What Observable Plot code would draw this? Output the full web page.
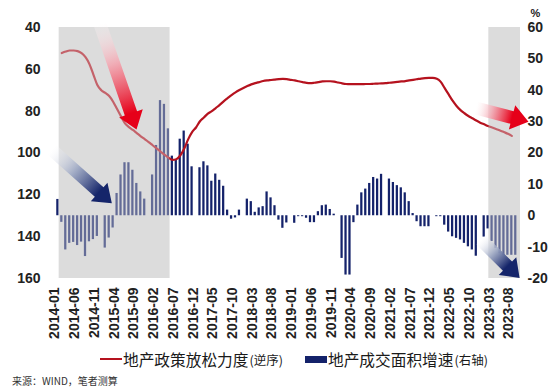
<!DOCTYPE html>
<html><head><meta charset="utf-8">
<script src="https://cdn.jsdelivr.net/npm/d3@7"></script>
<script src="https://cdn.jsdelivr.net/npm/@observablehq/plot@0.6"></script>
<style>
body{margin:0;background:#fff;}
#wrap{position:relative;width:553px;height:392px;overflow:hidden;background:#fff;font-family:"Liberation Sans",Arial,sans-serif;}
#chart{position:absolute;left:0;top:0;}
.leg{position:absolute;top:349px;height:20px;display:flex;align-items:center;font-family:"Noto Sans CJK SC",sans-serif;color:#1a1a1a;white-space:nowrap;}
.leg .t{font-size:15.7px;}
.leg .s{font-size:12.5px;margin-left:1px;}
.sw-line{display:inline-block;width:22px;height:2.5px;background:#b5121e;margin-right:1px;}
.sw-bar{display:inline-block;width:22px;height:7px;background:#14226a;margin-right:1px;}
#caption{position:absolute;left:12px;top:373px;font-family:"Noto Sans CJK SC",sans-serif;font-size:10px;color:#333;white-space:nowrap;}
</style></head><body>
<div id="wrap">
  <div id="chart"></div>
  <div class="leg" style="left:100px"><span class="sw-line"></span><span class="t">地产政策放松力度</span><span class="s">(逆序)</span></div>
  <div class="leg" style="left:305px"><span class="sw-bar"></span><span class="t">地产成交面积增速</span><span class="s">(右轴)</span></div>
  <div id="caption">来源：WIND，笔者测算</div>
</div>
<script>
// Categories: monthly, 2014-01 .. 2023-09
const months = d3.utcMonth.range(new Date(Date.UTC(2014,0,1)), new Date(Date.UTC(2023,9,1))).map(d3.utcFormat("%Y-%m"));
const tickLabels = ["2014-01","2014-06","2014-11","2015-04","2015-09","2016-02","2016-07","2016-12","2017-05","2017-10","2018-03","2018-08","2019-01","2019-06","2019-11","2020-04","2020-09","2021-02","2021-07","2021-12","2022-05","2022-10","2023-03","2023-08"];
const leftTicks = [40,60,80,100,120,140,160];
const rightTicks = [60,50,40,30,20,10,0,-10,-20];

// 地产成交面积增速 (右轴, %), 2014-01 .. 2023-09 (null = no value)
const salesGrowth = [
  5.2,-2.1,-10.9,-8.8,-8.5,-9.5,-8.4,-13.0,-8.3,-7.6,-6.6,null,
  -10.3,-7.1,-3.9,7.1,13.0,16.9,16.9,14.5,10.3,7.6,5.3,null,
  13.0,22.4,36.7,35.5,27.7,19.0,17.9,24.4,27.0,22.8,15.6,null,
  15.3,17.2,15.9,11.0,13.3,11.3,9.4,1.8,-1.1,-0.7,1.8,null,
  5.3,4.5,1.1,2.5,2.9,7.6,5.7,3.2,-1.4,-4.0,-2.3,null,
  -2.4,-0.3,-0.3,-0.8,-2.2,-2.2,1.3,3.2,3.4,2.0,0.5,null,
  -13.6,-18.9,-18.9,-2.2,3.4,7.3,8.5,10.3,12.2,11.7,13.2,null,
  11.7,10.6,9.6,8.9,7.3,4.5,0.7,-1.9,-3.5,-3.5,-3.5,null,
  -0.3,-0.3,-3.0,-5.2,-6.7,-7.2,-7.7,-8.8,-9.9,-10.9,-12.9,null,
  -6.8,-4.2,-8.2,-10.4,-12.1,-12.6,-12.6,-12.6,-12.6
];

// 地产政策放松力度 (逆序, 左轴), 2014-02 .. 2023-08
const lineStart = "2014-02";
const policyEase = [
  52.2,51.5,51.0,51.0,51.3,52.3,54.2,57.5,62.5,67.5,70.0,
  71.3,72.8,75.5,79.0,82.5,85.8,87.6,89.0,90.5,92.0,93.4,94.8,
  96.3,97.8,99.3,100.8,102.2,103.3,103.0,101.2,98.0,93.5,90.0,87.8,
  84.8,83.0,81.2,80.0,78.5,77.0,75.3,73.8,72.3,71.0,69.9,68.9,
  68.0,67.2,66.6,66.1,65.6,65.3,65.1,64.9,64.7,64.6,64.7,65.0,
  65.3,65.7,66.1,66.5,66.6,66.4,66.1,65.8,65.7,65.7,65.9,66.3,
  66.7,67.0,67.1,67.1,67.1,67.1,67.0,67.0,66.9,66.8,66.7,66.6,
  66.4,66.2,66.0,65.8,65.6,65.3,65.0,64.7,64.4,64.2,64.1,64.1,
  64.5,66.0,69.0,72.0,75.0,77.5,79.5,81.0,82.3,83.4,84.5,85.5,
  86.3,87.1,87.8,88.5,89.2,90.0,90.8,91.8
];

// Shaded periods (month index units)
const shades = [{from: 0.35, to: 28.4}, {from: 109.2, to: 117.2}];

// Annotation arrows (month index, left-axis units)
const arrows = [
  {x1: 10.8, y1: 38.6, x2: 20.05, y2: 89.0, kind: "red"},
  {x1: -1.35, y1: 98.8, x2: 13.8, y2: 124.3, kind: "blue"},
  {x1: 106.0, y1: 78.7, x2: 119.35, y2: 85.3, kind: "red"},
  {x1: 107.3, y1: 141.8, x2: 117.1, y2: 160.0, kind: "blue"}
];

const toLeft = v => 130 - 1.5 * v;   // right axis (%) -> left axis units
const bars = salesGrowth.map((v, i) => ({i, v})).filter(d => d.v != null);
const i0 = months.indexOf(lineStart);
const line = policyEase.map((v, k) => ({i: i0 + k, v}));
const tickIdx = tickLabels.map(l => months.indexOf(l));

const plot = Plot.plot({
  width: 553, height: 345,
  marginLeft: 55, marginRight: 33, marginTop: 27, marginBottom: 67,
  x: {type: "linear", domain: [-0.6, 117.2]},
  y: {domain: [40, 160], reverse: true},
  style: {fontFamily: "'Liberation Sans', Arial, sans-serif", fontSize: "14px", color: "#1a1a1a", background: "transparent", overflow: "visible"},
  marks: [
    Plot.rect(shades, {x1: "from", x2: "to", y1: () => 40, y2: () => 160, fill: "#dcdcdc"}),
    Plot.rect(bars, {x1: d => d.i - 0.5, x2: d => d.i + 0.5, y1: () => toLeft(0), y2: d => toLeft(d.v), insetLeft: 0.85, insetRight: 0.85, fill: "#14226a"}),
    Plot.line(line, {x: "i", y: "v", stroke: "#b5121e", strokeWidth: 2.2, curve: "monotone-x"}),
    Plot.rect(shades, {x1: "from", x2: "to", y1: () => 40, y2: () => 160, fill: "#dcdcdc", fillOpacity: 0.4}),
    Plot.axisX({ticks: tickIdx, tickFormat: i => months[i], tickRotate: -90, tickSize: 0, tickPadding: 9, fontSize: 14, fontWeight: "bold", fill: "#222", dx: -3, label: null}),
    Plot.axisY({anchor: "left", ticks: leftTicks, tickSize: 0, tickPadding: 15, fontSize: 14, fontWeight: "bold", fill: "#222", label: null}),
    Plot.axisY({anchor: "right", ticks: rightTicks.map(toLeft), tickFormat: L => String(Math.round((130 - L) / 1.5)), tickSize: 0, tickPadding: 7, fontSize: 14, fontWeight: "bold", fill: "#222", label: null}),
    Plot.text(["%"], {frameAnchor: "top-right", dx: 15, dy: -18, text: d => d, fontSize: 11, fontWeight: "bold", fill: "#222", textAnchor: "middle"})
  ]
});
document.getElementById("chart").appendChild(plot);

// Draw block arrows with gradients, positioned through Plot's scales
const xs = plot.scale("x"), ys = plot.scale("y");
const NS = "http://www.w3.org/2000/svg";
const svg = plot.tagName.toLowerCase() === "svg" ? plot : plot.querySelector("svg");
const defs = document.createElementNS(NS, "defs");
svg.appendChild(defs);
const palettes = {
  red: [[0, "#ffffff", 0.2], [0.45, "#f4a3ae", 0.85], [1, "#e60019", 1]],
  blue: [[0, "#ffffff", 0.2], [0.5, "#9aa5c2", 0.9], [1, "#15256a", 1]]
};
arrows.forEach((a, k) => {
  const tx = xs.apply(a.x1), ty = ys.apply(a.y1), px = xs.apply(a.x2), py = ys.apply(a.y2);
  const dx = px - tx, dy = py - ty, len = Math.hypot(dx, dy);
  const ux = dx / len, uy = dy / len, nx = -uy, ny = ux;
  const w = 13, hw = 25, hl = 17;
  const bx = px - ux * hl, by = py - uy * hl;
  const pts = [
    [tx + nx * w / 2, ty + ny * w / 2], [bx + nx * w / 2, by + ny * w / 2], [bx + nx * hw / 2, by + ny * hw / 2],
    [px, py],
    [bx - nx * hw / 2, by - ny * hw / 2], [bx - nx * w / 2, by - ny * w / 2], [tx - nx * w / 2, ty - ny * w / 2]
  ];
  const g = document.createElementNS(NS, "linearGradient");
  g.setAttribute("id", "arrowgrad" + k);
  g.setAttribute("gradientUnits", "userSpaceOnUse");
  g.setAttribute("x1", tx); g.setAttribute("y1", ty); g.setAttribute("x2", bx); g.setAttribute("y2", by);
  for (const [o, c, op] of palettes[a.kind]) {
    const s = document.createElementNS(NS, "stop");
    s.setAttribute("offset", o); s.setAttribute("stop-color", c); s.setAttribute("stop-opacity", op);
    g.appendChild(s);
  }
  defs.appendChild(g);
  const poly = document.createElementNS(NS, "polygon");
  poly.setAttribute("points", pts.map(p => p.join(",")).join(" "));
  poly.setAttribute("fill", `url(#arrowgrad${k})`);
  svg.appendChild(poly);
});
</script>
</body></html>
